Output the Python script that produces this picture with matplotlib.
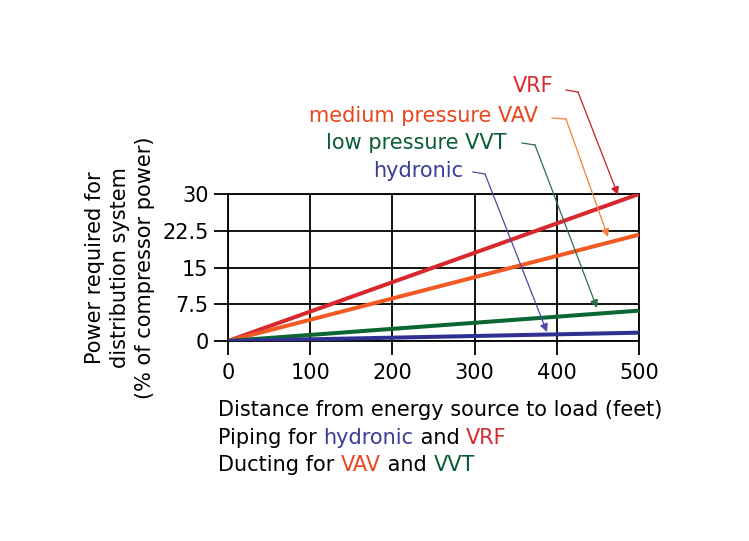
import matplotlib
matplotlib.use("Agg")
import matplotlib.pyplot as plt

plt.rcParams['font.family'] = ['DejaVu Sans']

# Data
distance = [0, 500]
series_names = ["VRF", "medium pressure VAV", "low pressure VVT", "hydronic"]
vrf = [0, 30.0]
vav = [0, 21.7]
vvt = [0, 6.2]
hydronic = [0, 1.7]
x_ticks = [0, 100, 200, 300, 400, 500]
y_ticks = [0, 7.5, 15, 22.5, 30]
y_tick_labels = ["0", "7.5", "15", "22.5", "30"]

line_colors = ["#d7282f", "#f15a24", "#0b6634", "#2e3192"]
text_colors = ["#d42a2f", "#e8461e", "#0a5c36", "#3b3b98"]
arrow_colors = ["#c8202a", "#f0823c", "#2f6e45", "#4a4aa0"]

fig = plt.figure(figsize=(7.49, 5.41), dpi=100)
W, H = 749, 541
ax = fig.add_axes([228 / W, 1 - 341 / H, (639 - 228) / W, (341 - 194) / H])

ax.set_xlim(0, 500)
ax.set_ylim(0, 30)
ax.set_xticks(x_ticks)
ax.set_yticks(y_ticks)
ax.set_yticklabels(y_tick_labels)
ax.grid(True, color="black", linewidth=1.3)
ax.set_axisbelow(True)
for s in ax.spines.values():
    s.set_linewidth(1.3)
ax.tick_params(axis="both", direction="out", length=10, width=1.3, labelsize=15)
ax.tick_params(axis="x", pad=6)
ax.tick_params(axis="y", pad=4)

for ys, c in zip([vrf, vav, vvt, hydronic], line_colors):
    ax.plot(distance, ys, color=c, linewidth=2.9, solid_capstyle="butt", zorder=3)

# labels with arrows (pixel positions converted to data)
def px2d(px, py):
    return ((px - 228) / 411 * 500, (341 - py) / 147 * 30)

label_specs = [
    # text right end, seg start, seg bend, tip
    ((553, 86), (566, 90), (578, 92), (618, 195)),
    ((538, 116), (552, 118), (566, 119), (608, 237)),
    ((507, 143), (522, 143), (535, 145), (597, 308)),
    ((463, 171), (473, 172), (485, 174), (547, 332)),
]
for name, tc, ac, (tpos, s0, s1, tip) in zip(series_names, text_colors, arrow_colors, label_specs):
    tx, ty = px2d(*tpos)
    ax.text(tx, ty, name, color=tc, fontsize=15, ha="right", va="center", clip_on=False)
    a = px2d(*s0)
    b = px2d(*s1)
    t = px2d(*tip)
    ax.plot([a[0], b[0]], [a[1], b[1]], color=ac, lw=0.9, clip_on=False, zorder=4)
    ax.annotate("", xy=t, xytext=b,
                arrowprops=dict(arrowstyle="-|>", color=ac, lw=0.9,
                                mutation_scale=12, shrinkA=0, shrinkB=0),
                annotation_clip=False, zorder=4)

# y label
fig.text(120 / W, 1 - 268 / H,
         "Power required for\ndistribution system\n(% of compressor power)",
         rotation=90, ha="center", va="center", fontsize=15, linespacing=1.3)

# x label lines (multi-coloured)
def chain(x, y, parts):
    prev = ax.annotate(parts[0][0], xy=(x, y), xycoords="figure fraction",
                       color=parts[0][1], fontsize=15, va="baseline", ha="left",
                       annotation_clip=False)
    for s, c in parts[1:]:
        prev = ax.annotate(s, xy=(1, 0), xycoords=prev, color=c, fontsize=15,
                           va="bottom", ha="left", annotation_clip=False)

chain(218 / W, 1 - 416 / H, [("Distance from energy source to load (feet)", "black")])
chain(218 / W, 1 - 444 / H, [("Piping for ", "black"), ("hydronic", "#3b3b98"),
                              (" and ", "black"), ("VRF", "#d42a2f")])
chain(218 / W, 1 - 471 / H, [("Ducting for ", "black"), ("VAV", "#e8461e"),
                              (" and ", "black"), ("VVT", "#0a5c36")])

fig.savefig("out.png", dpi=100)
